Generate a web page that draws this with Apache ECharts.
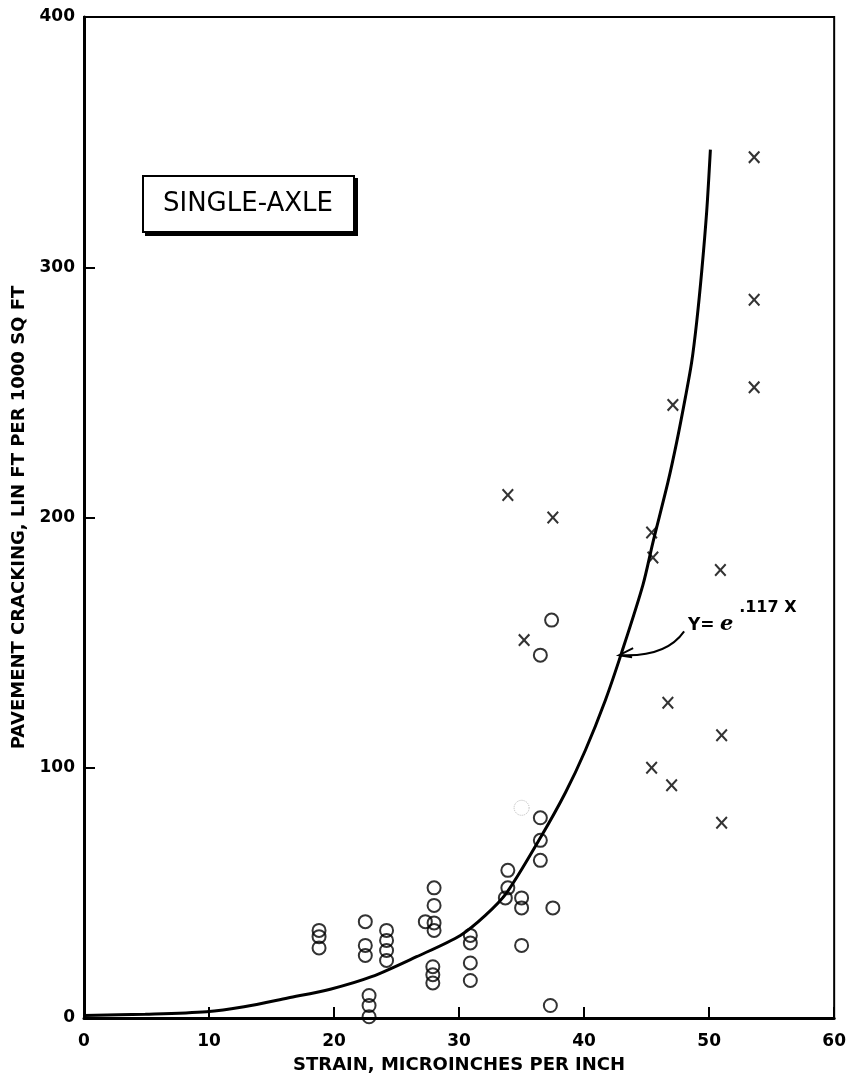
<!DOCTYPE html>
<html><head><meta charset="utf-8">
<script src="https://cdn.jsdelivr.net/npm/echarts@6/dist/echarts.min.js"></script>
<style>html,body{margin:0;padding:0;background:#fff}#c{width:849px;height:1079px}</style>
</head><body><div id="c"></div>
<script>
// ---- data ----
const xTickLabels = [0, 10, 20, 30, 40, 50, 60];
const yTickLabels = [0, 100, 200, 300, 400];

// fitted curve Y = e^(.117X), as traced on the figure
const curveX = [0, 4.9, 9.8, 12.8, 16.3, 19.7, 23.0, 26.6, 30.1, 32.1, 33.8, 36.5, 38.5, 40.1, 41.7, 43.0, 44.7, 45.5, 46.7, 47.4, 48.1, 48.6, 49.0, 49.4, 49.8, 50.1];
const curveY = [1, 1.5, 2.5, 4.5, 8, 11.5, 16.5, 24.5, 33, 41, 50, 72, 90, 107, 127, 146, 173, 190, 214, 230, 248, 262, 278, 298, 322, 347];

// X marks
const crossX = [53.6, 53.6, 53.6, 47.1, 33.9, 37.5, 45.4, 45.5, 50.9, 35.2, 46.7, 51.0, 45.4, 47.0, 51.0];
const crossY = [344, 287, 252, 245, 209, 200, 194, 184, 179, 151, 126, 113, 100, 93, 78];

// O marks
const circleX = [37.4, 36.5, 36.5, 36.5, 36.5, 33.9, 33.9, 33.7, 35.0, 35.0, 37.5, 35.0, 37.3,
  18.8, 18.8, 18.8, 22.5, 22.5, 22.5, 22.8, 22.8, 22.8, 24.2, 24.2, 24.2, 24.2,
  28.0, 28.0, 27.3, 28.0, 28.0, 27.9, 27.9, 27.9, 30.9, 30.9, 30.9, 30.9];
const circleY = [159, 145, 80, 71, 63, 59, 52, 48, 48, 44, 44, 29, 5,
  35, 32.5, 28, 38.5, 29, 25, 9, 5, 0.5, 35, 31, 27, 23,
  52, 45, 38.5, 38, 35, 20.5, 17.3, 14, 33, 30, 22, 15];

// faint erased circle on the scan
const ghostX = [35.0];
const ghostY = [84];

// annotation anchors (data coords)
const eqLabelAt = [48.3, 157];
const eqSupAt = [52.4, 164];
const arrowFrom = [48.0, 154.5];
const arrowTo = [42.8, 145];

const pairs = (xs, ys) => xs.map((x, i) => [x, ys[i]]);
const FONT = 'DejaVu Sans';
const crossPath = 'path://M0,1.2L1.2,0L5,3.8L8.8,0L10,1.2L6.2,5L10,8.8L8.8,10L5,6.2L1.2,10L0,8.8L3.8,5Z';

const chart = echarts.init(document.getElementById('c'), null, {renderer: 'canvas'});
chart.setOption({
  animation: false,
  backgroundColor: '#fff',
  grid: {left: 84, right: 12, top: 17, bottom: 59, show: true, borderColor: '#000', borderWidth: 2, backgroundColor: 'transparent'},
  xAxis: {
    type: 'value', min: 0, max: 60, interval: 10,
    axisLine: {show: true, onZero: false, lineStyle: {color: '#000', width: 3}},
    axisTick: {show: true, inside: true, length: 11, lineStyle: {color: '#000', width: 2}},
    axisLabel: {color: '#000', fontFamily: FONT, fontWeight: 'bold', fontSize: 17, margin: 15,
      formatter: v => xTickLabels.includes(v) ? String(v) : ''},
    splitLine: {show: false},
    name: 'STRAIN, MICROINCHES PER INCH', nameLocation: 'middle', nameGap: 38,
    nameTextStyle: {color: '#000', fontFamily: FONT, fontWeight: 'bold', fontSize: 18}
  },
  yAxis: {
    type: 'value', min: 0, max: 400, interval: 100,
    axisLine: {show: true, onZero: false, lineStyle: {color: '#000', width: 3}},
    axisTick: {show: true, inside: true, length: 11, lineStyle: {color: '#000', width: 2}},
    axisLabel: {color: '#000', fontFamily: FONT, fontWeight: 'bold', fontSize: 17, margin: 9,
      formatter: v => yTickLabels.includes(v) ? String(v) : ''},
    splitLine: {show: false},
    name: 'PAVEMENT CRACKING, LIN FT PER 1000 SQ FT', nameLocation: 'middle', nameGap: 52, nameRotate: 90,
    nameTextStyle: {color: '#000', fontFamily: FONT, fontWeight: 'bold', fontSize: 18}
  },
  series: [
    {type: 'line', data: pairs(curveX, curveY), smooth: 0.3, symbol: 'none', z: 2,
      lineStyle: {color: '#000', width: 3}},
    {type: 'scatter', data: pairs(circleX, circleY), symbol: 'circle', symbolSize: 13, z: 3,
      itemStyle: {color: 'rgba(255,255,255,0)', borderColor: '#000', borderWidth: 2}},
    {type: 'scatter', data: pairs(crossX, crossY), symbol: crossPath, symbolSize: [12, 13], z: 3,
      itemStyle: {color: '#000'}},
    {type: 'scatter', data: pairs(ghostX, ghostY), symbol: 'circle', symbolSize: 15, z: 1,
      itemStyle: {color: 'rgba(255,255,255,0)', borderColor: '#aaa', borderWidth: 1, borderType: 'dotted'}}
  ]
});

const px = p => chart.convertToPixel({gridIndex: 0}, p);
const a0 = px(arrowFrom), a1 = px(arrowTo), l0 = px(eqLabelAt), s0 = px(eqSupAt);
chart.setOption({
  graphic: [
    // title box shadow + box
    {type: 'rect', left: 145, top: 178, shape: {width: 213, height: 58}, style: {fill: '#000'}, z: 10},
    {type: 'rect', left: 142, top: 175, shape: {width: 211, height: 56}, style: {fill: '#fff', stroke: '#000', lineWidth: 2}, z: 11},
    {type: 'text', x: 248, y: 204, z: 12,
      style: {text: 'SINGLE-AXLE', fill: '#000', font: '26px "DejaVu Sans"', align: 'center', verticalAlign: 'middle'}},
    // equation label
    {type: 'text', x: l0[0], y: l0[1], z: 12,
      style: {text: 'Y= ', fill: '#000', font: 'bold 17px "DejaVu Sans"', verticalAlign: 'middle'}},
    {type: 'text', x: l0[0] + 32, y: l0[1] - 1, z: 12,
      style: {text: 'e', fill: '#000', font: 'italic bold 21px "DejaVu Serif"', verticalAlign: 'middle'}},
    {type: 'text', x: s0[0], y: s0[1], z: 12,
      style: {text: '.117 X', fill: '#000', font: 'bold 16px "DejaVu Sans"', verticalAlign: 'middle'}},
    // arrow
    {type: 'bezierCurve', z: 12,
      shape: {x1: a0[0], y1: a0[1], x2: a1[0] + 2, y2: a1[1], cpx1: a0[0] - 18, cpy1: a1[1] + 2},
      style: {stroke: '#000', lineWidth: 2, fill: null}},
    {type: 'polyline', z: 12,
      shape: {points: [[a1[0] + 14, a1[1] - 7], [a1[0], a1[1]], [a1[0] + 13, a1[1] + 2]]},
      style: {stroke: '#000', lineWidth: 2, fill: null}}
  ]
});
</script></body></html>
